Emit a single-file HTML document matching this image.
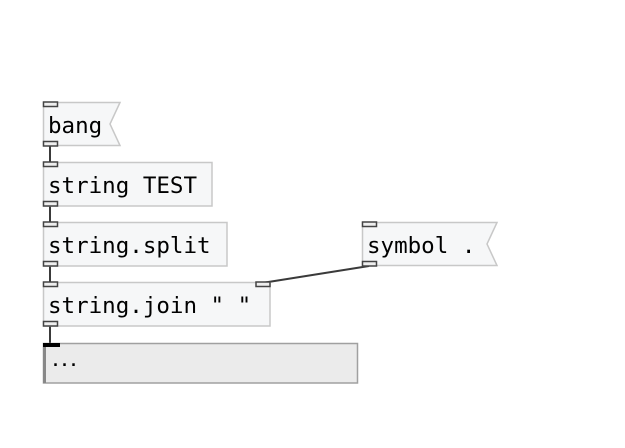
<!DOCTYPE html>
<html><head><meta charset="utf-8"><style>
html,body{margin:0;padding:0;background:#fff;width:625px;height:448px;overflow:hidden}
text{font-family:"DejaVu Sans Mono","Liberation Mono",monospace;font-size:22.5px;fill:#000}
</style></head><body>
<svg width="625" height="448" xmlns="http://www.w3.org/2000/svg">
<g stroke="#3a3a3a" stroke-width="2" fill="none">
<line x1="50" y1="146" x2="50" y2="162"/>
<line x1="50" y1="206" x2="50" y2="222"/>
<line x1="50" y1="266" x2="50" y2="282"/>
<line x1="50" y1="326" x2="50" y2="343"/>
<line x1="369" y1="266" x2="262" y2="283"/>
</g>
<path d="M43.5,102.5 H120 L110,124 L120,145.5 H43.5 Z" fill="#f6f7f8" stroke="#c8c8c8" stroke-width="1.5"/>
<text x="48" y="133">bang</text>
<rect x="43.5" y="162.5" width="168.5" height="43.5" fill="#f6f7f8" stroke="#c8c8c8" stroke-width="1.5"/>
<text x="48" y="193">string TEST</text>
<rect x="43.5" y="222.5" width="183.5" height="43.5" fill="#f6f7f8" stroke="#c8c8c8" stroke-width="1.5"/>
<text x="48" y="253">string.split</text>
<path d="M362.5,222.5 H497 L487,244 L497,265.5 H362.5 Z" fill="#f6f7f8" stroke="#c8c8c8" stroke-width="1.5"/>
<text x="367" y="253">symbol .</text>
<rect x="43.5" y="282.5" width="226.5" height="43.5" fill="#f6f7f8" stroke="#c8c8c8" stroke-width="1.5"/>
<text x="48" y="313">string.join " "</text>
<rect x="43.5" y="343.5" width="314" height="39.5" fill="#ebebeb" stroke="#a0a0a0" stroke-width="1.5"/>
<rect x="43" y="344" width="3" height="39" fill="#888"/>
<rect x="43" y="343" width="17" height="4" fill="#000"/>
<text x="51" y="366" style="font-size:15px;font-weight:bold">...</text>
<g fill="#eee" stroke="#444" stroke-width="1.5">
<rect x="43.5" y="102" width="14" height="4.5"/>
<rect x="43.5" y="141.5" width="14" height="4.5"/>
<rect x="43.5" y="162" width="14" height="4.5"/>
<rect x="43.5" y="201.5" width="14" height="4.5"/>
<rect x="43.5" y="222" width="14" height="4.5"/>
<rect x="43.5" y="261.5" width="14" height="4.5"/>
<rect x="362.5" y="222" width="14" height="4.5"/>
<rect x="362.5" y="261.5" width="14" height="4.5"/>
<rect x="43.5" y="282" width="14" height="4.5"/>
<rect x="256" y="282" width="14" height="4.5"/>
<rect x="43.5" y="321.5" width="14" height="4.5"/>
</g>
</svg>
</body></html>
